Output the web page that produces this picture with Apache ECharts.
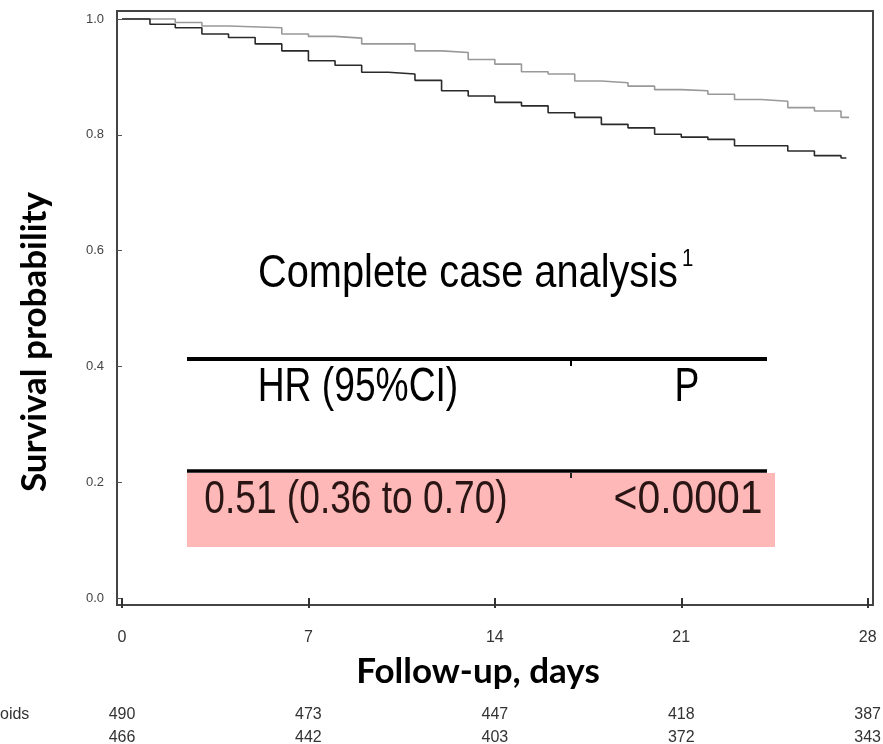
<!DOCTYPE html>
<html>
<head>
<meta charset="utf-8">
<script src="https://cdn.jsdelivr.net/npm/echarts@6/dist/echarts.min.js"></script>
<style>
  html, body { margin: 0; padding: 0; background: #fff; }
  #chart { width: 883px; height: 744px; }
</style>
</head>
<body>
<div id="chart"></div>
<script>
const upperDays = [0, 2, 3, 4, 6, 7, 8, 9, 11, 12, 13, 14, 15, 16, 17, 18, 19, 20, 21, 22, 23, 24, 25, 26, 27, 27.3]
const upperSurv = [1.0, 0.994, 0.988, 0.985, 0.974, 0.970, 0.967, 0.957, 0.945, 0.942, 0.930, 0.922, 0.909, 0.905, 0.893, 0.890, 0.884, 0.878, 0.876, 0.870, 0.861, 0.858, 0.847, 0.841, 0.830, 0.830]

const lowerDays = [0, 1.05, 2, 3, 4, 5, 6, 7, 8, 9, 10, 11, 12, 13, 14, 15, 16, 17, 18, 19, 20, 21, 22, 23, 25, 26, 27, 27.2]
const lowerSurv = [1.0, 0.991, 0.985, 0.974, 0.968, 0.957, 0.945, 0.928, 0.920, 0.908, 0.905, 0.894, 0.876, 0.867, 0.856, 0.850, 0.838, 0.830, 0.818, 0.812, 0.801, 0.796, 0.792, 0.781, 0.772, 0.764, 0.760, 0.760]

const dayTicks = [0, 7, 14, 21, 28]
const survTicks = [0, 0.2, 0.4, 0.6, 0.8, 1.0]
const atRiskRow1 = [490, 473, 447, 418, 387]
const atRiskRow2 = [466, 442, 403, 372, 343]
const atRiskLabel = 'oids'

const tableTitle = 'Complete case analysis'
const tableHeader = ['HR (95%CI)', 'P']
const tableRow = ['0.51 (0.36 to 0.70)', '<0.0001']

const sans = '"Liberation Sans", Arial, sans-serif'
const boldSans = 'Lato, "Open Sans", sans-serif'

const pairs = (xs, ys) => xs.map((x, i) => [x, ys[i]])

const chart = echarts.init(document.getElementById('chart'))

const xMin = -0.188
const xMax = 28.2

const riskAxis = (row, offset) => ({
  type: 'value',
  position: 'bottom',
  min: xMin,
  max: xMax,
  offset: offset,
  axisLine: { show: false },
  axisTick: { show: false },
  splitLine: { show: false },
  axisLabel: {
    customValues: dayTicks,
    margin: 7,
    fontFamily: sans,
    fontSize: 16,
    color: '#333',
    formatter: (v) => {
      const i = dayTicks.indexOf(v)
      return i >= 0 ? String(row[i]) : ''
    }
  }
})

// narrow text: regular Liberation Sans squeezed horizontally
const narrowText = (text, x, y, size, sx, fill) => ({
  type: 'text',
  x: x,
  y: y,
  scaleX: sx,
  style: { text: text, fontFamily: sans, fontSize: size, fill: fill, align: 'center', verticalAlign: 'middle' }
})

const option = {
  animation: false,
  grid: {
    left: 117,
    right: 10,
    top: 11,
    bottom: 139,
    outerBoundsMode: 'none',
    show: true,
    borderColor: '#444',
    borderWidth: 2
  },
  xAxis: [
    {
      type: 'value',
      min: xMin,
      max: xMax,
      offset: 2,
      axisLine: { show: false },
      splitLine: { show: false },
      axisTick: {
        customValues: dayTicks,
        length: 10,
        lineStyle: { color: '#333', width: 2 }
      },
      axisLabel: {
        customValues: dayTicks,
        margin: 23,
        fontFamily: sans,
        fontSize: 16,
        color: '#333'
      }
    },
    riskAxis(atRiskRow1, 95),
    riskAxis(atRiskRow2, 118)
  ],
  yAxis: {
    type: 'value',
    min: -0.0121,
    max: 1.0138,
    axisLine: { show: false },
    splitLine: { show: false },
    axisTick: {
      customValues: survTicks,
      length: 5,
      lineStyle: { color: '#555', width: 1 }
    },
    axisLabel: {
      customValues: survTicks,
      margin: 13,
      fontFamily: sans,
      fontSize: 13,
      color: '#444',
      formatter: (v) => v.toFixed(1)
    }
  },
  series: [
    {
      type: 'line',
      step: 'end',
      symbol: 'none',
      data: pairs(upperDays, upperSurv),
      lineStyle: { color: '#999', width: 1.6 }
    },
    {
      type: 'line',
      step: 'end',
      symbol: 'none',
      data: pairs(lowerDays, lowerSurv),
      lineStyle: { color: '#2a2a2a', width: 1.6 }
    }
  ],
  graphic: [
    {
      type: 'rect',
      shape: { x: 187, y: 473, width: 588, height: 74 },
      style: { fill: '#ffb8b8' }
    },
    {
      type: 'line',
      shape: { x1: 187, y1: 359, x2: 767, y2: 359 },
      style: { stroke: '#000', lineWidth: 4 }
    },
    {
      type: 'line',
      shape: { x1: 571, y1: 361, x2: 571, y2: 366 },
      style: { stroke: '#000', lineWidth: 2 }
    },
    {
      type: 'line',
      shape: { x1: 187, y1: 471, x2: 767, y2: 471 },
      style: { stroke: '#000', lineWidth: 3.5 }
    },
    {
      type: 'line',
      shape: { x1: 571, y1: 473, x2: 571, y2: 478 },
      style: { stroke: '#222', lineWidth: 2 }
    },
    narrowText(tableTitle, 468, 274, 47, 0.846, '#000'),
    {
      type: 'text',
      x: 682,
      y: 247,
      scaleX: 0.85,
      style: { text: '1', fontFamily: sans, fontSize: 24, fill: '#000', align: 'left', verticalAlign: 'top' }
    },
    narrowText(tableHeader[0], 358, 388, 48, 0.775, '#000'),
    narrowText(tableHeader[1], 687, 388, 48, 0.775, '#000'),
    narrowText(tableRow[0], 356, 500, 47, 0.79, '#2a1515'),
    narrowText(tableRow[1], 688, 500, 47, 0.87, '#2a1515'),
    {
      type: 'text',
      x: 35,
      y: 342,
      rotation: Math.PI / 2,
      style: { text: 'Survival probability', fontFamily: boldSans, fontWeight: 'bold', fontSize: 35, fill: '#000', align: 'center', verticalAlign: 'middle' }
    },
    {
      type: 'text',
      x: 478,
      y: 672,
      style: { text: 'Follow-up, days', fontFamily: boldSans, fontWeight: 'bold', fontSize: 35, fill: '#000', align: 'center', verticalAlign: 'middle' }
    },
    {
      type: 'text',
      x: 0,
      y: 715,
      style: { text: atRiskLabel, fontFamily: sans, fontSize: 16, fill: '#333', align: 'left', verticalAlign: 'middle' }
    }
  ]
}

chart.setOption(option)
</script>
</body>
</html>
